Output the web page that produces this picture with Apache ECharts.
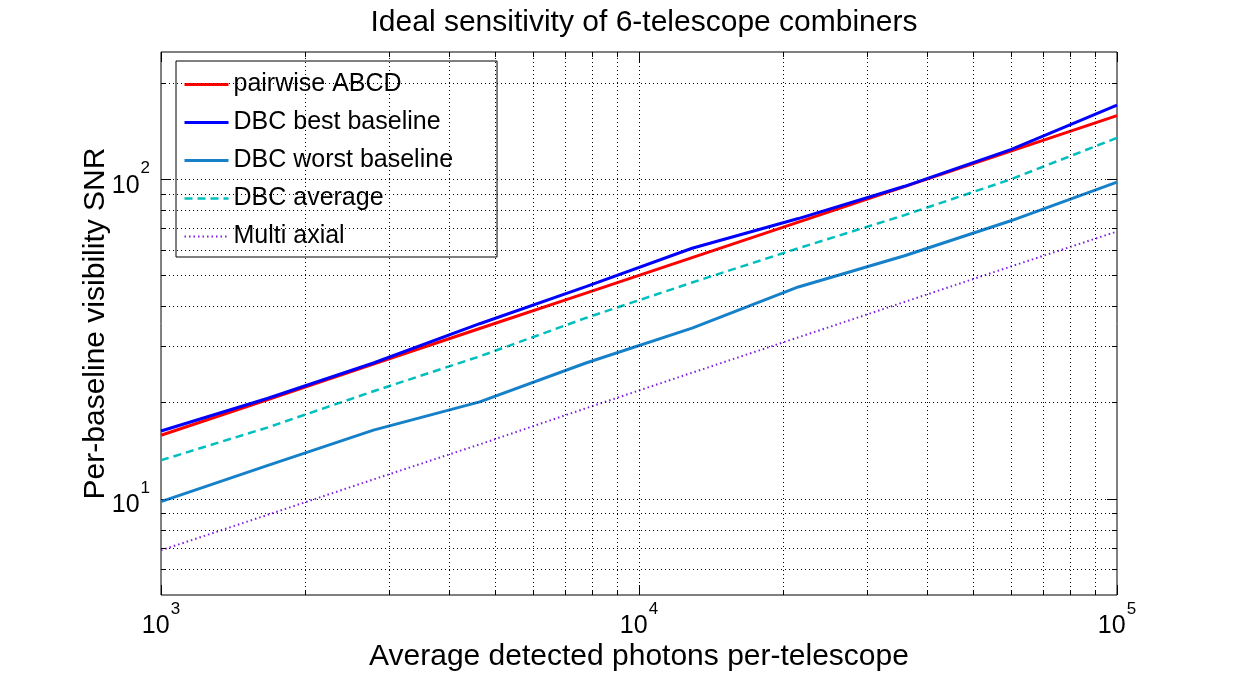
<!DOCTYPE html>
<html>
<head>
<meta charset="utf-8">
<script src="https://cdn.jsdelivr.net/npm/echarts@6/dist/echarts.min.js"></script>
<style>
  html, body { margin: 0; padding: 0; background: #fff; }
  #chart { width: 1235px; height: 677px; }
</style>
</head>
<body>
<div id="chart"></div>
<script>
// photons per telescope (10 log-spaced points) and SNR
const photons = [1000, 1668, 2783, 4642, 7743, 12915, 21544, 35938, 59948, 100000];
const pairwiseABCD = [15.8, 20.4, 26.4, 34.1, 44.0, 56.8, 73.4, 94.8, 122.4, 158.1];
const dbcBest = [16.3, 20.6, 26.6, 35.3, 46.1, 60.8, 75.3, 95.0, 123.8, 170.6];
const dbcWorst = [9.8, 12.7, 16.4, 20.1, 26.6, 34.2, 46.0, 57.6, 74.1, 97.9];
const dbcAverage = [13.2, 16.7, 21.7, 27.9, 36.8, 47.5, 60.8, 77.2, 99.9, 134.7];
const multiAxial = [6.9, 8.9, 11.5, 14.8, 19.2, 24.8, 32.0, 41.3, 53.3, 68.6];

const xMajorTicks = [1000, 10000, 100000];
const xMinorTicks = [2000, 3000, 4000, 5000, 6000, 7000, 8000, 9000,
  20000, 30000, 40000, 50000, 60000, 70000, 80000, 90000];
const yMajorTicks = [10, 100];
const yMinorTicks = [6, 7, 8, 9, 20, 30, 40, 50, 60, 70, 80, 90, 200];
const xGridLines = xMinorTicks.concat([10000]);
const yGridLines = yMinorTicks.concat([10, 100]);

const FONT = '"Liberation Sans", Arial, Helvetica, sans-serif';

const pairs = ys => photons.map((x, i) => [x, ys[i]]);

const isDecade = v => Math.abs(Math.log10(v) - Math.round(Math.log10(v))) < 1e-6;
const powLabel = v => isDecade(v) ? '{b|10}{s|' + Math.round(Math.log10(v)) + '}' : '';
const powRich = {
  b: { fontSize: 25, fontFamily: FONT, color: '#000', lineHeight: 38, verticalAlign: 'bottom' },
  s: { fontSize: 17, fontFamily: FONT, color: '#000', verticalAlign: 'top', padding: [0, 0, 0, 1] }
};

function xAxisOf(position, ticks, len, withLabel) {
  return {
    type: 'log', logBase: 10, min: 1000, max: 100000, position: position,
    axisLine: { show: false },
    splitLine: { show: false },
    axisTick: { show: true, inside: true, length: len, customValues: ticks,
      lineStyle: { color: '#000', width: 1 } },
    axisLabel: withLabel
      ? { show: true, margin: 6, customValues: xMajorTicks, formatter: powLabel, rich: powRich }
      : { show: false },
    name: withLabel ? 'Average detected photons per-telescope' : '',
    nameLocation: 'middle', nameGap: 47, nameMoveOverlap: false,
    nameTextStyle: { fontSize: 30, fontFamily: FONT, color: '#000' }
  };
}

function yAxisOf(position, ticks, len, withLabel) {
  return {
    type: 'log', logBase: 10, min: 5, max: 250, position: position,
    axisLine: { show: false },
    splitLine: { show: false },
    axisTick: { show: true, inside: true, length: len, customValues: ticks,
      lineStyle: { color: '#000', width: 1 } },
    axisLabel: withLabel
      ? { show: true, margin: 11, customValues: yMajorTicks, formatter: powLabel, rich: powRich }
      : { show: false },
    name: withLabel ? 'Per-baseline visibility SNR' : '',
    nameLocation: 'middle', nameGap: 50, nameRotate: 90, nameMoveOverlap: false,
    nameTextStyle: { fontSize: 30, fontFamily: FONT, color: '#000' }
  };
}

const gridMarks = {
  silent: true,
  symbol: ['none', 'none'],
  label: { show: false },
  animation: false,
  lineStyle: { color: '#000', width: 1, type: [1, 3], opacity: 1 },
  emphasis: { disabled: true },
  data: xGridLines.map(v => ({ xAxis: v })).concat(yGridLines.map(v => ({ yAxis: v })))
};

function lineSeries(name, ys, color, width, type) {
  return {
    name: name, type: 'line', xAxisIndex: 0, yAxisIndex: 0,
    data: pairs(ys), symbol: 'none', smooth: false,
    lineStyle: { color: color, width: width, type: type },
    itemStyle: { color: color },
    emphasis: { disabled: true }
  };
}

const series = [
  lineSeries('pairwise ABCD', pairwiseABCD, '#ff0000', 3, 'solid'),
  lineSeries('DBC best baseline', dbcBest, '#0000ff', 3, 'solid'),
  lineSeries('DBC worst baseline', dbcWorst, '#1681c9', 3, 'solid'),
  lineSeries('DBC average', dbcAverage, '#00bfbf', 2.5, [8, 5]),
  lineSeries('Multi axial', multiAxial, '#7f1fe6', 2, [1.5, 3])
];
series[0].markLine = gridMarks;

const chart = echarts.init(document.getElementById('chart'));
chart.setOption({
  animation: false,
  backgroundColor: '#fff',
  title: {
    text: 'Ideal sensitivity of 6-telescope combiners',
    left: 639, top: 3, textAlign: 'center',
    textStyle: { fontSize: 30, fontWeight: 'normal', fontFamily: FONT, color: '#000' }
  },
  grid: { left: 161, right: 118, top: 52, bottom: 80, show: true,
    borderColor: '#000', borderWidth: 1, backgroundColor: 'transparent' },
  legend: {
    orient: 'vertical', left: 176, top: 61,
    backgroundColor: '#fff', borderColor: '#000', borderWidth: 1, borderRadius: 0,
    padding: [11, 44, 8, 7], itemGap: 13, itemWidth: 44, itemHeight: 25,
    itemStyle: { opacity: 0, color: 'transparent', borderWidth: 0 },
    lineStyle: { width: 'inherit' },
    textStyle: { fontSize: 25, fontFamily: FONT, color: '#000' },
    data: series.map(s => s.name)
  },
  xAxis: [
    xAxisOf('bottom', xMajorTicks, 10, true),
    xAxisOf('bottom', xMinorTicks, 5, false),
    xAxisOf('top', xMajorTicks, 10, false),
    xAxisOf('top', xMinorTicks, 5, false)
  ],
  yAxis: [
    yAxisOf('left', yMajorTicks, 10, true),
    yAxisOf('left', yMinorTicks, 5, false),
    yAxisOf('right', yMajorTicks, 10, false),
    yAxisOf('right', yMinorTicks, 5, false)
  ],
  series: series
});
</script>
</body>
</html>
